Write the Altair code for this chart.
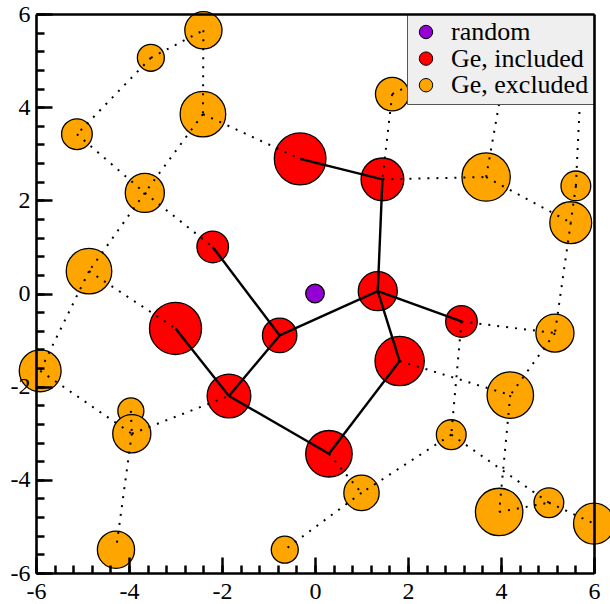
import altair as alt
import pandas as pd

# ---------------- data ----------------
node_name = ["R1", "R2", "R3", "R4", "R5", "R6", "R7", "R8", "R9", "R10",
             "O1", "O2", "O3", "O4", "O5", "O6", "O7", "O8", "O9", "O10",
             "O11", "O12", "O13", "O14", "O15", "O16", "O17", "O18", "O19",
             "O21", "O20", "O22", "P", "H1", "H2", "H3"]
node_x = [-0.32, 1.45, -2.20, 1.35, 3.15, 1.82, -3.00, -0.76, -1.85, 0.30,
          -2.40, -3.53, -2.41, -5.12, -3.66, -4.86, 1.66, 3.68, 5.61, 5.50,
          5.16, 4.20, 2.93, 3.96, 5.03, 6.00, 1.00, -0.65, -4.28,
          -3.96, -3.94, -5.91, 0.00, 2.47, 4.09, 5.74]
node_y = [2.89, 2.45, 1.00, 0.05, -0.60, -1.45, -0.75, -0.90, -2.20, -3.44,
          5.65, 5.06, 3.85, 3.42, 2.16, 0.48, 4.28, 2.50, 2.31, 1.52,
          -0.85, -2.18, -3.03, -4.69, -4.49, -4.94, -4.28, -5.50, -5.50,
          -2.52, -3.01, -1.66, 0.00, 4.69, 4.80, 5.01]
node_r = [0.555, 0.46, 0.34, 0.42, 0.34, 0.53, 0.56, 0.37, 0.47, 0.50,
          0.40, 0.29, 0.49, 0.33, 0.42, 0.49, 0.36, 0.52, 0.32, 0.45,
          0.41, 0.50, 0.32, 0.51, 0.32, 0.44, 0.38, 0.29, 0.40,
          0.28, 0.41, 0.45, 0.20, 0.0, 0.0, 0.0]
node_kind = (["Ge, included"] * 10 + ["Ge, excluded"] * 22 + ["random"]
             + ["hidden"] * 3)

solid_from = ["R1", "R2", "R4", "R4", "R4", "R3", "R8", "R7", "R9", "R10"]
solid_to = ["R2", "R4", "R5", "R6", "R8", "R8", "R9", "R9", "R10", "R6"]

dotted_from = ["O2", "O2", "O1", "O3", "O3", "O4", "O5", "O5", "O6", "O6",
               "O22", "O20", "O20", "O21", "O7", "R2", "O8", "O9", "O7", "O8",
               "O9", "O10", "R5", "R5", "R6", "O11", "O12", "O13", "O14",
               "O15", "O13", "O17", "R10"]
dotted_to = ["O1", "O4", "O3", "O5", "R1", "O5", "O6", "R3", "R7", "O22",
             "O20", "R9", "O19", "O20", "R2", "O8", "H2", "H3", "H1", "O10",
             "O10", "O11", "O11", "O13", "O12", "O12", "O14", "O15", "O15",
             "O16", "O17", "O18", "O17"]

legend_order = ["random", "Ge, included", "Ge, excluded"]
legend_colors = ["#9400d3", "#ff0000", "#ffa500"]

major_ticks = [-6, -4, -2, 0, 2, 4, 6]
minor_ticks = [-6, -5.6, -5.2, -4.8, -4.4, -4, -3.6, -3.2, -2.8, -2.4, -2,
               -1.6, -1.2, -0.8, -0.4, 0, 0.4, 0.8, 1.2, 1.6, 2, 2.4, 2.8,
               3.2, 3.6, 4, 4.4, 4.8, 5.2, 5.6, 6]

# ---------------- tables ----------------
nodes = pd.DataFrame({"name": node_name, "x": node_x, "y": node_y,
                      "r": node_r, "kind": node_kind})
nodes["r2"] = nodes["r"] ** 2
pos = {n: (x, y) for n, x, y in zip(node_name, node_x, node_y)}


def edges(src, dst):
    return pd.DataFrame({
        "x": [pos[a][0] for a in src], "y": [pos[a][1] for a in src],
        "x2": [pos[b][0] for b in dst], "y2": [pos[b][1] for b in dst]})


solid_df = edges(solid_from, solid_to)
dotted_df = edges(dotted_from, dotted_to)
ge_df = nodes[nodes["kind"].isin(["Ge, included", "Ge, excluded"])].copy()
ge_df["idx"] = range(len(ge_df))
rand_df = nodes[nodes["kind"] == "random"]

FONT = "Liberation Serif, Times New Roman, Times, serif"
W, H = 558, 559
SPAN = 12.0
sx = alt.Scale(domain=[-6, 6], nice=False, zero=False)
sy = alt.Scale(domain=[-6, 6], nice=False, zero=False)
size_scale = alt.Scale(type="linear", domain=[0, 1],
                       range=[0, (2 * W / SPAN) ** 2], zero=True)
color_scale = alt.Scale(domain=legend_order, range=legend_colors)

common = dict(grid=False, title=None, zindex=1)


def label_axis(orient):
    return alt.Axis(orient=orient, values=major_ticks, ticks=False,
                    domain=True, domainColor="black", domainWidth=2.6,
                    labels=True, labelFont=FONT, labelFontSize=24,
                    labelColor="black", labelPadding=6, labelFlush=False,
                    labelOverlap=False, labelExpr="toString(datum.value)",
                    **common)


def tick_axis(orient, vals, size):
    return alt.Axis(orient=orient, offset=-size, values=vals, domain=False,
                    labels=False, ticks=True, tickSize=size, tickWidth=2.5,
                    tickColor="black", **common)


def frame_axis(orient):
    return alt.Axis(orient=orient, domain=True, domainColor="black",
                    domainWidth=2.6, ticks=False, labels=False, **common)


legend = alt.Legend(orient="top-right", offset=0, title=None,
                    fillColor="#efefef", strokeColor="#555555", padding=5,
                    symbolType="circle", symbolSize=180,
                    symbolStrokeColor="black", symbolStrokeWidth=1,
                    symbolOffset=1, labelOffset=12, rowPadding=0.6,
                    labelFont=FONT, labelFontSize=26, labelColor="black",
                    labelLimit=400)

ge_layer = alt.Chart(ge_df).mark_circle(
    stroke="black", strokeWidth=1.3, opacity=1).encode(
    x=alt.X("x:Q", scale=sx, axis=label_axis("bottom")),
    y=alt.Y("y:Q", scale=sy, axis=label_axis("left")),
    size=alt.Size("r2:Q", scale=size_scale, legend=None),
    color=alt.Color("kind:N", scale=color_scale, legend=legend),
    order=alt.Order("idx:Q"),
)

rand_layer = alt.Chart(rand_df).mark_circle(
    stroke="black", strokeWidth=1.3, opacity=1).encode(
    x=alt.X("x:Q", scale=sx, axis=frame_axis("top")),
    y=alt.Y("y:Q", scale=sy, axis=frame_axis("right")),
    size=alt.Size("r2:Q", scale=size_scale, legend=None),
    color=alt.Color("kind:N", scale=color_scale, legend=legend),
)

dotted_layer = alt.Chart(dotted_df).mark_rule(
    color="black", strokeWidth=2, strokeDash=[2, 7], strokeCap="butt").encode(
    x=alt.X("x:Q", scale=sx, axis=tick_axis("bottom", major_ticks, 16)),
    y=alt.Y("y:Q", scale=sy, axis=tick_axis("left", major_ticks, 16)),
    x2="x2:Q", y2="y2:Q",
)

solid_layer = alt.Chart(solid_df).mark_rule(
    color="black", strokeWidth=2.4).encode(
    x=alt.X("x:Q", scale=sx, axis=tick_axis("bottom", minor_ticks, 8)),
    y=alt.Y("y:Q", scale=sy, axis=tick_axis("left", minor_ticks, 8)),
    x2="x2:Q", y2="y2:Q",
)

chart = alt.layer(ge_layer, rand_layer, dotted_layer, solid_layer).resolve_axis(
    x="independent", y="independent"
).properties(
    width=W, height=H,
    padding={"left": 36, "top": 14, "right": 16, "bottom": 31},
    autosize=alt.AutoSizeParams(type="none"),
    background="white",
).configure_view(stroke=None)

chart.save("out.html", embed_options={"renderer": "svg", "actions": False})
